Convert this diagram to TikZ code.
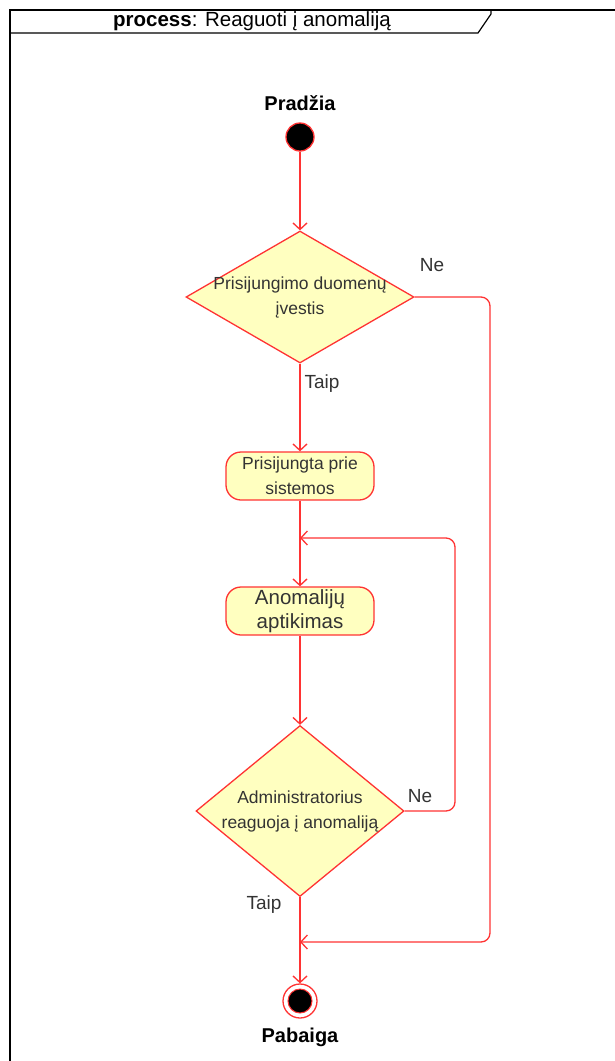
\documentclass[tikz,border=0pt]{standalone}
\usepackage{fontspec}
\setmainfont{Liberation Sans}
\usetikzlibrary{arrows.meta,shapes.geometric}
\definecolor{flowred}{HTML}{FF3333}
\definecolor{actfill}{HTML}{FFFFC0}
\definecolor{txtgray}{HTML}{333333}
\tikzset{
  conn/.style={draw=flowred, line width=1.3pt, -{Straight Barb[length=6.5pt,width=14pt]}},
  decision/.style={diamond, draw=flowred, fill=actfill, line width=1.3pt, inner sep=0pt},
  action/.style={rectangle, rounded corners=15pt, draw=flowred, fill=actfill, line width=1.3pt,
                 minimum width=148pt, minimum height=48pt},
  body/.style={text=txtgray, align=center, font=\fontsize{17.5}{25}\selectfont},
  guard/.style={text=txtgray, font=\fontsize{19}{22}\selectfont},
  termlabel/.style={font=\fontsize{20}{24}\selectfont\bfseries},
}
\begin{document}
\begin{tikzpicture}[x=1pt,y=-1pt]
\useasboundingbox (0,0) rectangle (614,1061);
\fill[white] (0,0) rectangle (614,1061);

% frame with title tab
\draw[line width=1.2pt] (10,1070) -- (10,10) -- (620,10);
\draw[line width=1.2pt] (10,33) -- (478,33) -- (491,14) -- (491,10);
\node[font=\fontsize{20.5}{24}\selectfont] (title) at (252,21) {\textbf{process}: Reaguoti į anomaliją};

% start
\node[termlabel] (startlbl) at (300,103) {Pradžia};
\node[circle, fill=black, draw=flowred, line width=1.3pt, minimum size=28pt, inner sep=0pt] (start) at (300,137) {};

% login decision
\node[decision, minimum width=228pt, minimum height=132pt] (d1) at (300,297) {};
\node[body] (d1txt) at (300,297) {Prisijungimo duomenų\\įvestis};

% actions
\node[action] (b1) at (300,476) {};
\node[body] (b1txt) at (300,476) {Prisijungta prie\\sistemos};
\node[action] (b2) at (300,611) {};
\node[body, font=\fontsize{20.5}{24}\selectfont] (b2txt) at (300,611) {Anomalijų\\aptikimas};

% reaction decision
\node[decision, minimum width=208pt, minimum height=171pt] (d2) at (300,811) {};
\node[body] (d2txt) at (300,811) {Administratorius\\reaguoja į anomaliją};

% end
\node[circle, draw=flowred, fill=white, line width=1.3pt, minimum size=34pt, inner sep=0pt] (stop) at (300,1001) {};
\node[circle, fill=black, draw=flowred, line width=1pt, minimum size=24pt, inner sep=0pt] (stopin) at (300,1001) {};
\node[termlabel] (stoplbl) at (300,1037) {Pabaiga};

% merge points and rails
\coordinate (m1) at (300,538);
\coordinate (m2) at (300,942);
\coordinate (rail1) at (490,942);
\coordinate (rail2) at (455,538);

% connectors
\draw[conn] (start) -- (d1.north);
\draw[conn] (d1.south) -- (b1.north);
\draw[conn] (b1.south) -- (b2.north);
\draw[conn] (b2.south) -- (d2.north);
\draw[conn] (d2.south) -- (stop.north);
\draw[conn, rounded corners=9pt] (d1.east) -| (rail1) -- (m2);
\draw[conn, rounded corners=9pt] (d2.east) -| (rail2) -- (m1);

% guards
\node[guard] (g1) at (432,265) {Ne};
\node[guard] (g2) at (322,384) {Taip};
\node[guard] (g3) at (420,796) {Ne};
\node[guard] (g4) at (264,905) {Taip};
\end{tikzpicture}
\end{document}
